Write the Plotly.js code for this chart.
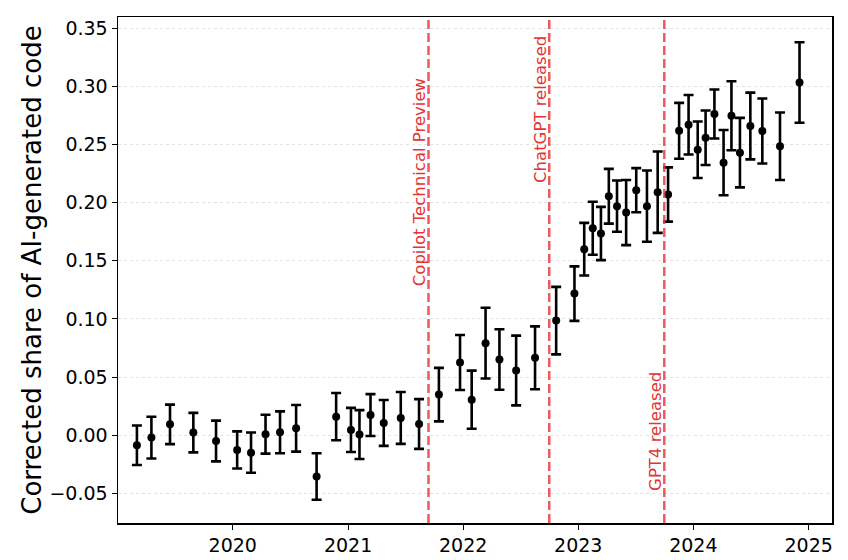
<!DOCTYPE html>
<html>
<head>
<meta charset="utf-8">
<script src="https://cdn.plot.ly/plotly-3.0.1.min.js"></script>
<style>
  html, body { margin: 0; padding: 0; background: #fff; }
  #chart { width: 848px; height: 560px; }
</style>
</head>
<body>
<div id="chart"></div>
<script>
// quarterly-ish estimates with 95% intervals
const dates = [
    "2019-03-03", "2019-04-18", "2019-06-16", "2019-08-29", "2019-11-09",
    "2020-01-15", "2020-02-28", "2020-04-14", "2020-05-30", "2020-07-20",
    "2020-09-23", "2020-11-24", "2021-01-10", "2021-02-06", "2021-03-13",
    "2021-04-24", "2021-06-17", "2021-08-14", "2021-10-16", "2021-12-22",
    "2022-01-28", "2022-03-13", "2022-04-26", "2022-06-18", "2022-08-17",
    "2022-10-23", "2022-12-20", "2023-01-20", "2023-02-16", "2023-03-14",
    "2023-04-08", "2023-05-04", "2023-06-02", "2023-07-04", "2023-08-07",
    "2023-09-10", "2023-10-13", "2023-11-17", "2023-12-17", "2024-01-15",
    "2024-02-09", "2024-03-08", "2024-04-06", "2024-05-01", "2024-05-28",
    "2024-06-30", "2024-08-07", "2024-10-02", "2024-12-03"
];
const share = [
    -0.0086, -0.0020, 0.0094, 0.0023, -0.0049,
    -0.0126, -0.0149, 0.0009, 0.0026, 0.0060,
    -0.0354, 0.0160, 0.0046, 0.0006, 0.0174,
    0.0106, 0.0149, 0.0097, 0.0350, 0.0626,
    0.0306, 0.0792, 0.0652, 0.0557, 0.0666,
    0.0986, 0.1218, 0.1600, 0.1780, 0.1735,
    0.2055, 0.1970, 0.1915, 0.2107, 0.1970,
    0.2090, 0.2070, 0.2618, 0.2670, 0.2455,
    0.2558, 0.2762, 0.2344, 0.2747, 0.2430,
    0.2659, 0.2616, 0.2485, 0.3033
];
const errs = [
    0.0170, 0.0180, 0.0170, 0.0170, 0.0175,
    0.0160, 0.0173, 0.0167, 0.0180, 0.0200,
    0.0200, 0.0203, 0.0190, 0.0210, 0.0180,
    0.0197, 0.0223, 0.0214, 0.0230, 0.0236,
    0.0250, 0.0304, 0.0260, 0.0300, 0.0270,
    0.0290, 0.0234, 0.0226, 0.0228, 0.0229,
    0.0235, 0.0220, 0.0280, 0.0190, 0.0306,
    0.0350, 0.0233, 0.0240, 0.0256, 0.0243,
    0.0234, 0.0211, 0.0280, 0.0297, 0.0299,
    0.0287, 0.0280, 0.0290, 0.0346
];

// events marked with dashed lines
const eventNames = ["Copilot Technical Preview", "ChatGPT released", "GPT4 released"];
const eventDates = ["2021-09-13", "2022-10-01", "2023-10-01"];
const eventLabelY = [0.126, 0.215, -0.0497];

const lineColor = "rgba(235,60,60,0.85)";
const textColor = "rgb(228,52,52)";

const shapes = eventDates.map(d => ({
    type: "line",
    xref: "x", yref: "paper",
    x0: d, x1: d, y0: 0, y1: 1,
    layer: "above",
    line: {color: lineColor, width: 2.5, dash: "9px,4px"}
}));

const annotations = eventNames.map((name, i) => ({
    x: eventDates[i], y: eventLabelY[i],
    xref: "x", yref: "y",
    text: name,
    textangle: -90,
    showarrow: false,
    xanchor: "center", yanchor: "bottom",
    xshift: -9,
    font: {family: "DejaVu Sans", size: 16.5, color: textColor}
}));

const trace = {
    x: dates,
    y: share,
    type: "scatter",
    mode: "markers",
    marker: {color: "black", size: 8},
    error_y: {type: "data", array: errs, visible: true, color: "black", thickness: 2.6, width: 5},
    hoverinfo: "x+y"
};

const layout = {
    width: 848,
    height: 560,
    margin: {l: 118, r: 16, t: 17, b: 37},
    paper_bgcolor: "white",
    plot_bgcolor: "white",
    showlegend: false,
    font: {family: "DejaVu Sans", color: "black"},
    xaxis: {
        type: "date",
        range: ["2019-01-02", "2025-03-16"],
        tickvals: ["2020-01-01", "2021-01-01", "2022-01-01", "2023-01-01", "2024-01-01", "2025-01-01"],
        ticktext: ["2020", "2021", "2022", "2023", "2024", "2025"],
        showgrid: false,
        zeroline: false,
        showline: true, mirror: true, linecolor: "black", linewidth: 1.5,
        ticks: "outside", ticklen: 5, tickwidth: 1, tickcolor: "black",
        tickfont: {size: 19}
    },
    yaxis: {
        range: [-0.0754, 0.3596],
        tickmode: "linear", tick0: 0, dtick: 0.05,
        tickformat: ".2f",
        showgrid: true, gridcolor: "#e2e2e2", griddash: "dot", gridwidth: 1,
        zeroline: false,
        showline: true, mirror: true, linecolor: "black", linewidth: 1.5,
        ticks: "outside", ticklen: 5, tickwidth: 1, tickcolor: "black",
        tickfont: {size: 19},
        title: {text: "Corrected share of AI-generated code", font: {size: 26}, standoff: 0}
    },
    shapes: shapes,
    annotations: annotations
};

Plotly.newPlot("chart", [trace], layout, {displayModeBar: false, staticPlot: true});
</script>
</body>
</html>
